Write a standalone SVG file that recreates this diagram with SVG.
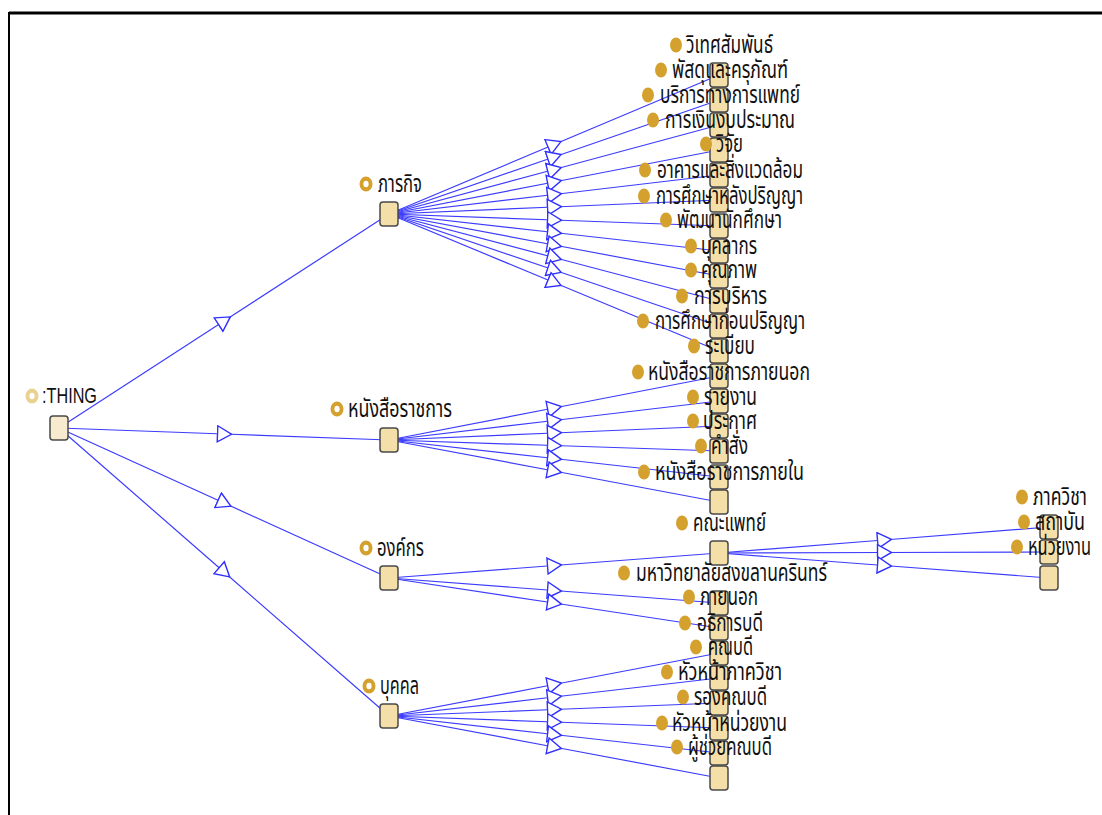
<svg xmlns="http://www.w3.org/2000/svg" width="1102" height="815" viewBox="0 0 1102 815">
  <style>
    .edge { fill: none; stroke: #3c3cff; stroke-width: 1.2; marker-mid: url(#tri); }
    .box { fill: #f5dfa9; stroke: #4a4a4a; stroke-width: 1.5; }
    .root { fill: #f7eacf; }
    .lbl { font-family: "Noto Sans Thai", "Loma", "Garuda", "Tlwg Typo", "Noto Sans", "DejaVu Sans", sans-serif; font-size: 25px; fill: #111; }
    .lat { font-family: "Liberation Sans", Arial, sans-serif; font-size: 22px; fill: #111; }
    .dot { fill: #d4a12f; }
    .ring { fill: #d4a12f; }
    .ring0 { fill: #e9d191; }
    .hole { fill: #fff; }
  </style>
  <defs>
    <marker id="tri" markerUnits="userSpaceOnUse" viewBox="0 0 16 18" markerWidth="16" markerHeight="18" refX="7.5" refY="9" orient="auto">
      <path d="M1,1 L15,9 L1,17 Z" fill="#fff" stroke="#2f2fff" stroke-width="1.4"/>
    </marker>
    <rect id="nb" x="-9" y="-12" width="18" height="24" rx="3"/>
  </defs>

  <rect x="0" y="0" width="1102" height="815" fill="#fff"/>
  <!-- frame -->
  <line x1="9" y1="13" x2="1102" y2="13" stroke="#000" stroke-width="3"/>
  <line x1="9" y1="12" x2="9" y2="815" stroke="#000" stroke-width="2"/>

  <g id="connectors">
    <path class="edge" d="M59,428 L224,321 L389,214"/>
    <path class="edge" d="M59,428 L224,434 L389,440"/>
    <path class="edge" d="M59,428 L224,503 L389,578"/>
    <path class="edge" d="M59,428 L224,572 L389,716"/>

    <path class="edge" d="M389,214 L554,144.5 L719,75"/>
    <path class="edge" d="M389,214 L554,157 L719,100"/>
    <path class="edge" d="M389,214 L554,169.5 L719,125"/>
    <path class="edge" d="M389,214 L554,182 L719,150"/>
    <path class="edge" d="M389,214 L554,194.5 L719,175"/>
    <path class="edge" d="M389,214 L554,207 L719,200"/>
    <path class="edge" d="M389,214 L554,220 L719,226"/>
    <path class="edge" d="M389,214 L554,232.5 L719,251"/>
    <path class="edge" d="M389,214 L554,245 L719,276"/>
    <path class="edge" d="M389,214 L554,257.5 L719,301"/>
    <path class="edge" d="M389,214 L554,270 L719,326"/>
    <path class="edge" d="M389,214 L554,282.5 L719,351"/>

    <path class="edge" d="M389,440 L554,408 L719,376"/>
    <path class="edge" d="M389,440 L554,420.5 L719,401"/>
    <path class="edge" d="M389,440 L554,433 L719,426"/>
    <path class="edge" d="M389,440 L554,445.5 L719,451"/>
    <path class="edge" d="M389,440 L554,458.5 L719,477"/>
    <path class="edge" d="M389,440 L554,471 L719,502"/>

    <path class="edge" d="M389,578 L554,565.5 L719,553"/>
    <path class="edge" d="M389,578 L554,590.5 L719,603"/>
    <path class="edge" d="M389,578 L554,603 L719,628"/>

    <path class="edge" d="M389,716 L554,684.5 L719,653"/>
    <path class="edge" d="M389,716 L554,697 L719,678"/>
    <path class="edge" d="M389,716 L554,709.5 L719,703"/>
    <path class="edge" d="M389,716 L554,722 L719,728"/>
    <path class="edge" d="M389,716 L554,734.5 L719,753"/>
    <path class="edge" d="M389,716 L554,747 L719,778"/>

    <path class="edge" d="M719,553 L884,540 L1049,527"/>
    <path class="edge" d="M719,553 L884,552.5 L1049,552"/>
    <path class="edge" d="M719,553 L884,565.5 L1049,578"/>
  </g>

  <!-- root class -->
  <g id="thing">
    <use href="#nb" x="59" y="428" class="box root"/>
    <ellipse cx="32" cy="396" rx="6.5" ry="7.5" class="ring0"/>
    <ellipse cx="32" cy="396" rx="2.6" ry="3.2" class="hole"/>
    <text x="42" y="403" class="lat" textLength="55" lengthAdjust="spacingAndGlyphs">:THING</text>
  </g>

  <!-- top-level classes -->
  <g id="pharakit">
    <use href="#nb" x="389" y="214" class="box"/>
    <ellipse cx="366" cy="184" rx="6.5" ry="7.5" class="ring"/>
    <ellipse cx="366" cy="184" rx="2.6" ry="3.2" class="hole"/>
    <text x="378" y="192" class="lbl" textLength="44" lengthAdjust="spacingAndGlyphs">ภารกิจ</text>
  </g>
  <g id="nangsue">
    <use href="#nb" x="389" y="440" class="box"/>
    <ellipse cx="337" cy="409" rx="6.5" ry="7.5" class="ring"/>
    <ellipse cx="337" cy="409" rx="2.6" ry="3.2" class="hole"/>
    <text x="348" y="417" class="lbl" textLength="104" lengthAdjust="spacingAndGlyphs">หนังสือราชการ</text>
  </g>
  <g id="ongkon">
    <use href="#nb" x="389" y="578" class="box"/>
    <ellipse cx="366" cy="548" rx="6.5" ry="7.5" class="ring"/>
    <ellipse cx="366" cy="548" rx="2.6" ry="3.2" class="hole"/>
    <text x="377" y="556" class="lbl" textLength="47" lengthAdjust="spacingAndGlyphs">องค์กร</text>
  </g>
  <g id="bukkhon">
    <use href="#nb" x="389" y="716" class="box"/>
    <ellipse cx="369" cy="686" rx="6.5" ry="7.5" class="ring"/>
    <ellipse cx="369" cy="686" rx="2.6" ry="3.2" class="hole"/>
    <text x="380" y="694" class="lbl" textLength="39" lengthAdjust="spacingAndGlyphs">บุคคล</text>
  </g>

  <!-- children of ภารกิจ -->
  <g id="n01"><use href="#nb" x="719" y="75" class="box"/><ellipse cx="676" cy="45" rx="6" ry="7.5" class="dot"/><text x="686" y="53" class="lbl" textLength="87" lengthAdjust="spacingAndGlyphs">วิเทศสัมพันธ์</text></g>
  <g id="n02"><use href="#nb" x="719" y="100" class="box"/><ellipse cx="661" cy="70" rx="6" ry="7.5" class="dot"/><text x="672" y="78" class="lbl" textLength="116" lengthAdjust="spacingAndGlyphs">พัสดุและครุภัณฑ์</text></g>
  <g id="n03"><use href="#nb" x="719" y="125" class="box"/><ellipse cx="648" cy="95" rx="6" ry="7.5" class="dot"/><text x="660" y="103" class="lbl" textLength="140" lengthAdjust="spacingAndGlyphs">บริการทางการแพทย์</text></g>
  <g id="n04"><use href="#nb" x="719" y="150" class="box"/><ellipse cx="653" cy="120" rx="6" ry="7.5" class="dot"/><text x="665" y="128" class="lbl" textLength="130" lengthAdjust="spacingAndGlyphs">การเงินงบประมาณ</text></g>
  <g id="n05"><use href="#nb" x="719" y="175" class="box"/><ellipse cx="706" cy="144" rx="6" ry="7.5" class="dot"/><text x="716" y="152" class="lbl" textLength="27" lengthAdjust="spacingAndGlyphs">วิจัย</text></g>
  <g id="n06"><use href="#nb" x="719" y="200" class="box"/><ellipse cx="645" cy="170" rx="6" ry="7.5" class="dot"/><text x="657" y="178" class="lbl" textLength="146" lengthAdjust="spacingAndGlyphs">อาคารและสิ่งแวดล้อม</text></g>
  <g id="n07"><use href="#nb" x="719" y="226" class="box"/><ellipse cx="644" cy="196" rx="6" ry="7.5" class="dot"/><text x="656" y="204" class="lbl" textLength="147" lengthAdjust="spacingAndGlyphs">การศึกษาหลังปริญญา</text></g>
  <g id="n08"><use href="#nb" x="719" y="251" class="box"/><ellipse cx="666" cy="220" rx="6" ry="7.5" class="dot"/><text x="677" y="228" class="lbl" textLength="105" lengthAdjust="spacingAndGlyphs">พัฒนานักศึกษา</text></g>
  <g id="n09"><use href="#nb" x="719" y="276" class="box"/><ellipse cx="691" cy="246" rx="6" ry="7.5" class="dot"/><text x="701" y="254" class="lbl" textLength="56" lengthAdjust="spacingAndGlyphs">บุคลากร</text></g>
  <g id="n10"><use href="#nb" x="719" y="301" class="box"/><ellipse cx="691" cy="270" rx="6" ry="7.5" class="dot"/><text x="701" y="278" class="lbl" textLength="56" lengthAdjust="spacingAndGlyphs">คุณภาพ</text></g>
  <g id="n11"><use href="#nb" x="719" y="326" class="box"/><ellipse cx="682" cy="296" rx="6" ry="7.5" class="dot"/><text x="694" y="304" class="lbl" textLength="73" lengthAdjust="spacingAndGlyphs">การบริหาร</text></g>
  <g id="n12"><use href="#nb" x="719" y="351" class="box"/><ellipse cx="643" cy="321" rx="6" ry="7.5" class="dot"/><text x="655" y="329" class="lbl" textLength="150" lengthAdjust="spacingAndGlyphs">การศึกษาก่อนปริญญา</text></g>

  <!-- children of หนังสือราชการ -->
  <g id="n13"><use href="#nb" x="719" y="376" class="box"/><ellipse cx="694" cy="346" rx="6" ry="7.5" class="dot"/><text x="705" y="354" class="lbl" textLength="50" lengthAdjust="spacingAndGlyphs">ระเบียบ</text></g>
  <g id="n14"><use href="#nb" x="719" y="401" class="box"/><ellipse cx="638" cy="372" rx="6" ry="7.5" class="dot"/><text x="648" y="380" class="lbl" textLength="162" lengthAdjust="spacingAndGlyphs">หนังสือราชการภายนอก</text></g>
  <g id="n15"><use href="#nb" x="719" y="426" class="box"/><ellipse cx="693" cy="397" rx="6" ry="7.5" class="dot"/><text x="704" y="405" class="lbl" textLength="53" lengthAdjust="spacingAndGlyphs">รายงาน</text></g>
  <g id="n16"><use href="#nb" x="719" y="451" class="box"/><ellipse cx="693" cy="421" rx="6" ry="7.5" class="dot"/><text x="703" y="429" class="lbl" textLength="54" lengthAdjust="spacingAndGlyphs">ประกาศ</text></g>
  <g id="n17"><use href="#nb" x="719" y="477" class="box"/><ellipse cx="701" cy="446" rx="6" ry="7.5" class="dot"/><text x="711" y="454" class="lbl" textLength="37" lengthAdjust="spacingAndGlyphs">คำสั่ง</text></g>
  <g id="n18"><use href="#nb" x="719" y="502" class="box"/><ellipse cx="644" cy="472" rx="6" ry="7.5" class="dot"/><text x="655" y="480" class="lbl" textLength="149" lengthAdjust="spacingAndGlyphs">หนังสือราชการภายใน</text></g>

  <!-- children of องค์กร -->
  <g id="n19"><use href="#nb" x="719" y="553" class="box"/><ellipse cx="682" cy="523" rx="6" ry="7.5" class="dot"/><text x="693" y="531" class="lbl" textLength="73" lengthAdjust="spacingAndGlyphs">คณะแพทย์</text></g>
  <g id="n20"><use href="#nb" x="719" y="603" class="box"/><ellipse cx="624" cy="573" rx="6" ry="7.5" class="dot"/><text x="636" y="581" class="lbl" textLength="191" lengthAdjust="spacingAndGlyphs">มหาวิทยาลัยสงขลานครินทร์</text></g>
  <g id="n21"><use href="#nb" x="719" y="628" class="box"/><ellipse cx="689" cy="597" rx="6" ry="7.5" class="dot"/><text x="700" y="605" class="lbl" textLength="58" lengthAdjust="spacingAndGlyphs">ภายนอก</text></g>

  <!-- children of บุคคล -->
  <g id="n22"><use href="#nb" x="719" y="653" class="box"/><ellipse cx="685" cy="623" rx="6" ry="7.5" class="dot"/><text x="697" y="631" class="lbl" textLength="66" lengthAdjust="spacingAndGlyphs">อธิการบดี</text></g>
  <g id="n23"><use href="#nb" x="719" y="678" class="box"/><ellipse cx="696" cy="647" rx="6" ry="7.5" class="dot"/><text x="708" y="655" class="lbl" textLength="45" lengthAdjust="spacingAndGlyphs">คณบดี</text></g>
  <g id="n24"><use href="#nb" x="719" y="703" class="box"/><ellipse cx="667" cy="672" rx="6" ry="7.5" class="dot"/><text x="678" y="680" class="lbl" textLength="104" lengthAdjust="spacingAndGlyphs">หัวหน้าภาควิชา</text></g>
  <g id="n25"><use href="#nb" x="719" y="728" class="box"/><ellipse cx="683" cy="697" rx="6" ry="7.5" class="dot"/><text x="694" y="705" class="lbl" textLength="73" lengthAdjust="spacingAndGlyphs">รองคณบดี</text></g>
  <g id="n26"><use href="#nb" x="719" y="753" class="box"/><ellipse cx="662" cy="723" rx="6" ry="7.5" class="dot"/><text x="672" y="731" class="lbl" textLength="115" lengthAdjust="spacingAndGlyphs">หัวหน้าหน่วยงาน</text></g>
  <g id="n27"><use href="#nb" x="719" y="778" class="box"/><ellipse cx="677" cy="747" rx="6" ry="7.5" class="dot"/><text x="688" y="755" class="lbl" textLength="84" lengthAdjust="spacingAndGlyphs">ผู้ช่วยคณบดี</text></g>

  <!-- children of คณะแพทย์ -->
  <g id="n28"><use href="#nb" x="1049" y="527" class="box"/><ellipse cx="1022" cy="497" rx="6" ry="7.5" class="dot"/><text x="1033" y="505" class="lbl" textLength="54" lengthAdjust="spacingAndGlyphs">ภาควิชา</text></g>
  <g id="n29"><use href="#nb" x="1049" y="552" class="box"/><ellipse cx="1024" cy="522" rx="6" ry="7.5" class="dot"/><text x="1035" y="530" class="lbl" textLength="50" lengthAdjust="spacingAndGlyphs">สถาบัน</text></g>
  <g id="n30"><use href="#nb" x="1049" y="578" class="box"/><ellipse cx="1017" cy="547" rx="6" ry="7.5" class="dot"/><text x="1028" y="555" class="lbl" textLength="63" lengthAdjust="spacingAndGlyphs">หน่วยงาน</text></g>
</svg>
